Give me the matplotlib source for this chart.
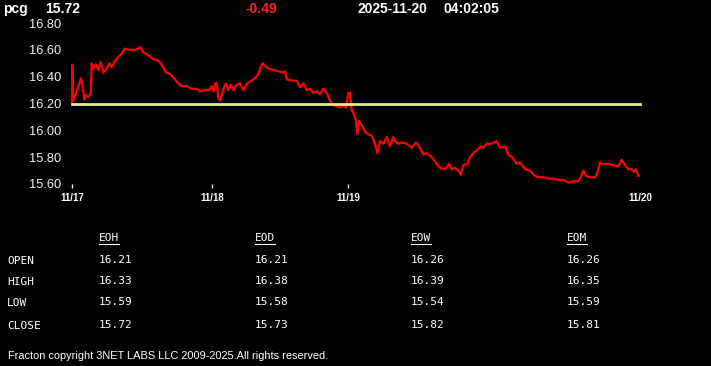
import numpy as np
import matplotlib.pyplot as plt

# price trace (bar index, price)
bars = [0, 0.3, 1.3, 4.7, 7.3, 9, 10.7, 12.3, 14, 16.3, 18.7, 19.7, 21.3, 23.7, 26.3,
        28.7, 31.3, 34.7, 37.3, 39.7, 43, 48, 51.3, 53, 56.3, 59.7, 63, 66.3, 68.7,
        71.3, 76.3, 81.3, 86.3, 88.7, 91.3, 94, 98, 103, 106.3,
        109.3, 114.7, 119.7, 124.7, 128, 133, 137.3, 139.7, 141.3, 143, 144.7, 146.3,
        148, 149.7, 151.3, 154, 156.3, 158.7, 161.3, 164.7, 168, 171.3, 175.3, 179.7,
        183, 186.3, 188.7, 190.7, 193, 196.3, 201.3, 206.3, 211.3, 213, 214.7, 219.7,
        224.7, 228, 231.3, 234.7, 238, 241.3, 244.7, 248, 251.3, 254.7, 258, 261.3,
        264.7, 268, 271.3, 274, 276.3, 278, 279.7, 282, 284, 285.3, 287.3, 289.7, 293,
        296.3, 299.7, 303, 305.3, 308, 311.3, 314.7, 318, 321.3, 323, 326.3, 329.7,
        334.7, 339.7, 344, 348, 351.3, 354.7, 359.7, 364.7, 368, 373, 377.3, 379.7,
        383, 386.3, 388.7, 391.3, 395.3, 398, 401.3, 406.3, 408, 411.3, 414.7, 419.7,
        424.7, 428, 433, 436.3, 441.3, 444.7, 448, 453, 458, 463, 466.3, 471.3, 476.3,
        481.3, 486.3, 491.3, 496.3, 501.3, 506.3, 508.7, 511.3, 514, 518, 523, 525.3,
        528, 531.3, 536.3, 541.3, 546.3, 549.7, 553, 556.3, 559.7, 562, 564, 566.3]
prices = [16.21, 16.49, 16.22, 16.29, 16.35, 16.39, 16.33, 16.23, 16.26, 16.25, 16.27,
          16.50, 16.46, 16.49, 16.45, 16.51, 16.43, 16.46, 16.50, 16.47, 16.52, 16.56,
          16.59, 16.61, 16.60, 16.60, 16.60, 16.61, 16.62, 16.58, 16.56, 16.53, 16.52,
          16.50, 16.47, 16.43, 16.42, 16.38, 16.35,
          16.33, 16.33, 16.31, 16.31, 16.29, 16.30, 16.30, 16.33, 16.29, 16.35, 16.35,
          16.24, 16.22, 16.26, 16.31, 16.35, 16.30, 16.34, 16.30, 16.34, 16.35, 16.30,
          16.35, 16.37, 16.39, 16.42, 16.47, 16.50, 16.48, 16.46, 16.45, 16.44, 16.43,
          16.44, 16.38, 16.37, 16.37, 16.32, 16.35, 16.30, 16.31, 16.28, 16.29, 16.27,
          16.31, 16.28, 16.22, 16.19, 16.18, 16.17, 16.18, 16.17, 16.28, 16.28, 16.15,
          16.12, 16.07, 15.97, 16.07, 16.04, 15.99, 15.97, 15.96, 15.90, 15.83, 15.92,
          15.90, 15.95, 15.88, 15.95, 15.92, 15.90, 15.91, 15.90, 15.87, 15.91, 15.87,
          15.82, 15.83, 15.80, 15.75, 15.72, 15.71, 15.75, 15.71, 15.72, 15.70, 15.67,
          15.74, 15.75, 15.80, 15.83, 15.86, 15.88, 15.87, 15.90, 15.90, 15.92, 15.87,
          15.88, 15.82, 15.79, 15.75, 15.76, 15.71, 15.70, 15.66, 15.65, 15.65, 15.64,
          15.64, 15.63, 15.63, 15.61, 15.62, 15.62, 15.65, 15.70, 15.66, 15.65, 15.65,
          15.68, 15.76, 15.75, 15.75, 15.74, 15.73, 15.78, 15.74, 15.71, 15.71, 15.69,
          15.71, 15.66]
ref_price = 16.20
day_ticks = [0, 140, 276]
day_labels = ["11/17", "11/18", "11/19"]
end_tick = 568
end_label = "11/20"
y_ticks = [15.60, 15.80, 16.00, 16.20, 16.40, 16.60, 16.80]

symbol = "pcg"
last = "15.72"
change = "-0.49"
date_str = "2025-11-20"
time_str = "04:02:05"

row_names = ["OPEN", "HIGH", "LOW", "CLOSE"]
col_names = ["EOH", "EOD", "EOW", "EOM"]
table_vals = [["16.21", "16.21", "16.26", "16.26"],
              ["16.33", "16.38", "16.39", "16.35"],
              ["15.59", "15.58", "15.54", "15.59"],
              ["15.72", "15.73", "15.82", "15.81"]]
footer = "Fracton copyright 3NET LABS LLC 2009-2025.All rights reserved."

W, H = 711, 366
fig = plt.figure(figsize=(W / 100, H / 100), dpi=100, facecolor="black")


def fx(px):
    return px / W


def fy(py):
    return 1 - py / H


ax = fig.add_axes([fx(72), fy(184), fx(640) - fx(72), fy(23) - fy(184)])
ax.set_facecolor("black")
for s in ax.spines.values():
    s.set_visible(False)

ax.plot(bars, prices, color="#ff0000", lw=1.6, clip_on=False, zorder=2)
ax.plot([0, end_tick], [ref_price, ref_price], color="#dcee8c", lw=2.0,
        clip_on=False, zorder=3)

ax.set_xlim(0, end_tick)
ax.set_ylim(15.60, 16.80)
ax.set_yticks(y_ticks)
ax.set_yticklabels(["%.2f" % v for v in y_ticks], color="#eeeeee",
                   fontsize=9.3, family="Liberation Sans")
ax.tick_params(axis="y", length=0, pad=8)

ax.set_xticks(day_ticks)
ax.set_xticklabels(day_labels, color="white", fontsize=7, fontweight="bold",
                   family="Liberation Sans")
ax.tick_params(axis="x", which="major", length=3, width=1, color="white", pad=3.5)
ax.set_xticks([end_tick], minor=True)
ax.set_xticklabels([end_label], minor=True, color="white", fontsize=7,
                   fontweight="bold", family="Liberation Sans")
ax.tick_params(axis="x", which="minor", length=0, pad=6.5)

# header
hdr = dict(color="white", fontsize=10, fontweight="bold", family="Liberation Sans",
           va="baseline")
fig.text(fx(3), fy(13.3), symbol, **hdr)
fig.text(fx(45), fy(13.3), last, **hdr)
fig.text(fx(246), fy(13.3), change, **{**hdr, "color": "#ff2020"})
fig.text(fx(358), fy(13.3), date_str, **hdr)
fig.text(fx(444), fy(13.3), time_str, **hdr)

# table
mono = dict(color="white", fontsize=8, family="DejaVu Sans Mono", va="baseline")
col_x = [99, 255, 411, 567]
row_y = [264, 284.7, 306.3, 329]
fig.canvas.draw()
renderer = fig.canvas.get_renderer()
for cx, name in zip(col_x, col_names):
    t = fig.text(fx(cx), fy(241.3), name, **mono)
    bb = t.get_window_extent(renderer)
    fig.add_artist(plt.Line2D([bb.x0 / W, bb.x1 / W], [fy(243.5)] * 2,
                              color="white", lw=0.8))
for ry, rname, vals in zip(row_y, row_names, table_vals):
    fig.text(fx(7), fy(ry), rname, **mono)
    for cx, v in zip(col_x, vals):
        fig.text(fx(cx), fy(ry - 1), v, **mono)

fig.text(fx(8), fy(358.7), footer, color="white", fontsize=7.9,
         family="Liberation Sans", va="baseline")

fig.savefig("out.png", dpi=100, facecolor="black")
